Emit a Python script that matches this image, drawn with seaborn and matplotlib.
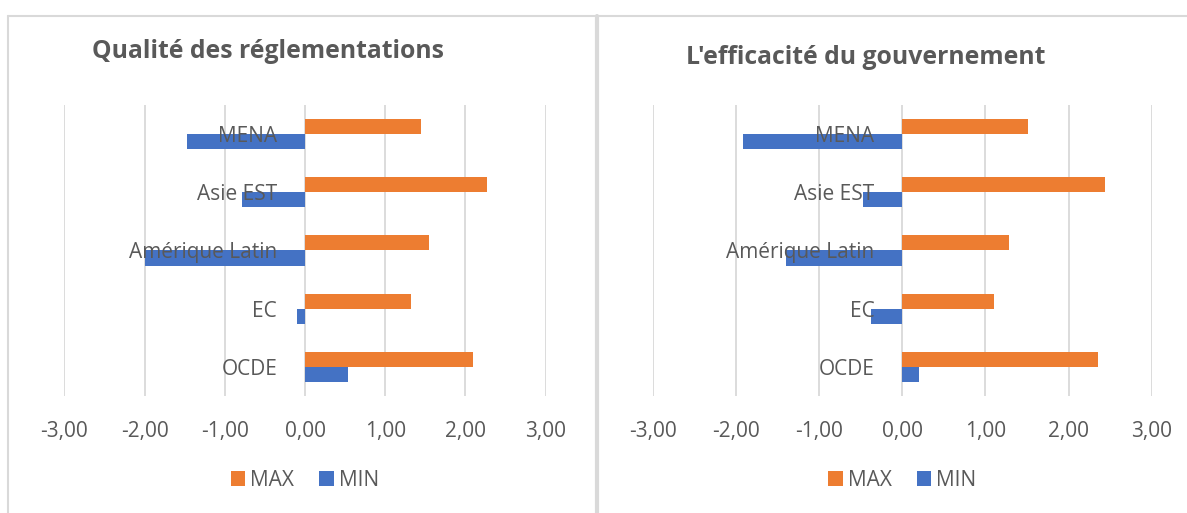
import matplotlib
matplotlib.use("Agg")
import matplotlib.pyplot as plt
from matplotlib.patches import Patch
from matplotlib.lines import Line2D
from matplotlib.ticker import FuncFormatter
import seaborn as sns
import pandas as pd

sns.set_theme(style="white")
plt.rcParams["font.family"] = ["Open Sans", "DejaVu Sans"]

categories = ["MENA", "Asie EST", "Amérique Latin", "EC", "OCDE"]
series = ["MAX", "MIN"]

reg_max = [1.44, 2.27, 1.55, 1.32, 2.09]
reg_min = [-1.47, -0.79, -1.99, -0.10, 0.53]

gov_max = [1.51, 2.44, 1.28, 1.10, 2.36]
gov_min = [-1.92, -0.47, -1.40, -0.37, 0.20]

titles = ["Qualité des réglementations", "L'efficacité du gouvernement"]
tick_values = [-3, -2, -1, 0, 1, 2, 3]

ORANGE = "#ED7D31"
BLUE = "#4472C4"
TXT = "#595959"
GRID = "#D9D9D9"

W, H = 1187, 513
fig = plt.figure(figsize=(W / 100, H / 100), dpi=100)
fig.patch.set_facecolor("white")


def fx(px):
    return px / W


def fy(py):
    return 1 - py / H


# panel borders
fig.add_artist(Line2D([fx(8), fx(1187)], [fy(16), fy(16)], color=GRID, lw=1.5))
fig.add_artist(Line2D([fx(8), fx(8)], [fy(16), fy(513)], color=GRID, lw=1.5))
fig.add_artist(Line2D([fx(597), fx(597)], [fy(16), fy(513)], color=GRID, lw=3))

axes_pos = [
    [fx(64.3), fy(396), fx(545.7) - fx(64.3), fy(105) - fy(396)],
    [fx(652.8), fy(396), fx(1151.7) - fx(652.8), fy(105) - fy(396)],
]
title_pos = [(268, 52), (866, 57)]
datasets = [(reg_max, reg_min), (gov_max, gov_min)]

fmt = FuncFormatter(lambda v, p: f"{v:.2f}".replace(".", ","))

for pos, (vmax, vmin), title, tp in zip(axes_pos, datasets, titles, title_pos):
    ax = fig.add_axes(pos)
    df = pd.DataFrame({
        "cat": categories * 2,
        "val": vmax + vmin,
        "serie": [series[0]] * len(categories) + [series[1]] * len(categories),
    })
    sns.barplot(data=df, y="cat", x="val", hue="serie", orient="h",
                order=categories, hue_order=series,
                palette=[ORANGE, BLUE], width=0.52, ax=ax,
                linewidth=0, legend=False, saturation=1)
    ax.set_xlim(-3, 3)
    ax.set_ylim(len(categories) - 0.5, -0.5)
    ax.set_xticks(tick_values)
    ax.xaxis.set_major_formatter(fmt)
    ax.grid(axis="x", color=GRID, lw=1.3)
    ax.grid(axis="y", visible=False)
    for s in ax.spines.values():
        s.set_visible(False)
    ax.spines["left"].set_position(("data", 0))
    ax.tick_params(axis="x", length=0, pad=18, labelsize=15, labelcolor=TXT)
    ax.tick_params(axis="y", length=0, pad=20, labelsize=15, labelcolor=TXT)
    ax.set_xlabel("")
    ax.set_ylabel("")
    ax.set_facecolor("none")
    ax.xaxis.set_zorder(0.5)
    ax.yaxis.set_zorder(5)
    handles = [Patch(facecolor=ORANGE, edgecolor="none", label=series[0]),
               Patch(facecolor=BLUE, edgecolor="none", label=series[1])]
    leg = ax.legend(handles=handles, loc="center", bbox_to_anchor=(0.5, -0.289),
                    ncol=2, frameon=False, fontsize=15, handlelength=0.7,
                    handleheight=0.7, handletextpad=0.25, columnspacing=1.2)
    for t in leg.get_texts():
        t.set_color(TXT)
    fig.text(fx(tp[0]), fy(tp[1]), title, ha="center", va="center",
             fontsize=17.8, fontweight="bold", color=TXT)

fig.savefig("out.png", dpi=100, facecolor="white")
